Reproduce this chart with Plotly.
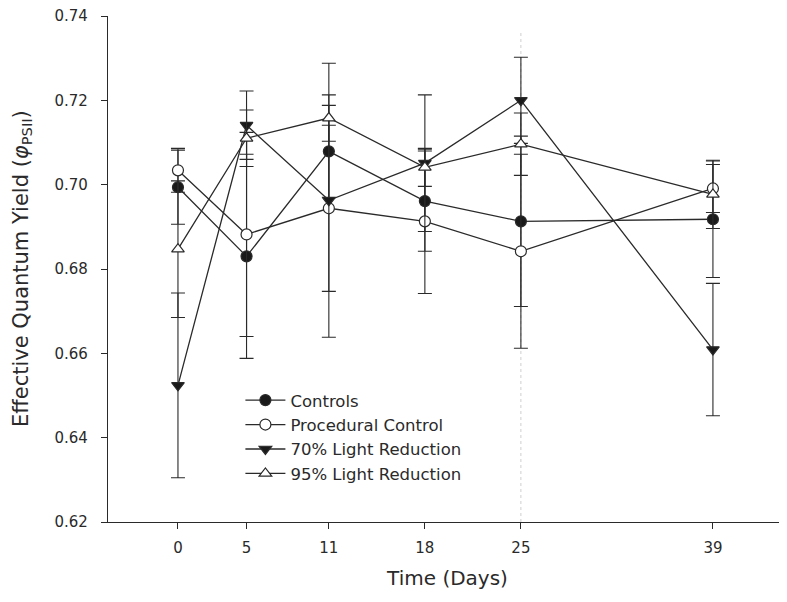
import plotly.graph_objects as go

days = [0, 5, 11, 18, 25, 39]
x_ticks = [0, 5, 11, 18, 25, 39]
y_ticks = [0.62, 0.64, 0.66, 0.68, 0.70, 0.72, 0.74]
y_tick_labels = ["0.62", "0.64", "0.66", "0.68", "0.70", "0.72", "0.74"]

series_names = ["Controls", "Procedural Control", "70% Light Reduction", "95% Light Reduction"]

controls = [0.6994, 0.6830, 0.7079, 0.6961, 0.6913, 0.6918]
controls_err = [0.0088, 0.0242, 0.0109, 0.0119, 0.0202, 0.0138]

procedural = [0.7034, 0.6882, 0.6944, 0.6913, 0.6842, 0.6991]
procedural_err = [0.0052, 0.0242, 0.0197, 0.0171, 0.0230, 0.0057]

light70 = [0.6524, 0.7141, 0.6963, 0.7051, 0.7200, 0.6609]
light70_err = [0.0219, 0.0081, 0.0325, 0.0162, 0.0102, 0.0157]

light95 = [0.6847, 0.7110, 0.7158, 0.7041, 0.7096, 0.6977]
light95_err = [0.0162, 0.0067, 0.0055, 0.0045, 0.0074, 0.0081]

values = [controls, procedural, light70, light95]
errors = [controls_err, procedural_err, light70_err, light95_err]
symbols = ["circle", "circle", "triangle-down", "triangle-up"]
fills = ["#1a1a1a", "white", "#1a1a1a", "white"]

fig = go.Figure()
for i, name in enumerate(series_names):
    fig.add_trace(go.Scatter(
        x=days, y=values[i], name=name, mode="lines+markers",
        legendgroup=name,
        line=dict(color="#2a2a2a", width=1.3),
        marker=dict(symbol=symbols[i], size=11, color=fills[i],
                    line=dict(color="#2a2a2a", width=1.2)),
        error_y=dict(type="data", array=errors[i], visible=True,
                     color="#2a2a2a", thickness=1.1, width=7),
    ))

# faint vertical scan line at day 25
fig.add_shape(type="line", x0=days[4], x1=days[4], y0=0, y1=0.97,
              xref="x", yref="paper",
              line=dict(color="#cfcfcf", width=1, dash="dot"), layer="below")

font = "DejaVu Sans, Arial, sans-serif"

# y-axis title as a rotated annotation so it can sit further left
fig.add_annotation(
    text="Effective Quantum Yield (<i>φ</i><sub>PSII</sub>)",
    xref="paper", yref="paper", x=0, y=0.5, xanchor="center", yanchor="middle",
    xshift=-86, textangle=-90, showarrow=False,
    font=dict(family=font, size=21, color="#2a2a2a"),
)

fig.update_layout(
    width=779, height=586,
    margin=dict(l=100, r=0, t=8, b=72),
    paper_bgcolor="white", plot_bgcolor="white",
    font=dict(family=font, size=14, color="#2a2a2a"),
    showlegend=True,
    legend=dict(x=0.195, y=0.275, xanchor="left", yanchor="top",
                bgcolor="rgba(0,0,0,0)", font=dict(size=16.5, color="#2a2a2a"),
                tracegroupgap=0, itemwidth=40),
    xaxis=dict(range=[-5.1, 44.4], tickmode="array", tickvals=x_ticks,
               ticktext=[str(t) for t in x_ticks],
               showgrid=False, zeroline=False, showline=True,
               linecolor="#2a2a2a", linewidth=1.3, ticks="outside",
               ticklen=6, tickcolor="#2a2a2a", tickfont=dict(size=15),
               ticklabelstandoff=6,
               title=dict(text="Time (Days)", font=dict(size=20), standoff=14)),
    yaxis=dict(range=[0.62, 0.74], tickmode="array", tickvals=y_ticks,
               ticktext=y_tick_labels,
               showgrid=False, zeroline=False, showline=True,
               linecolor="#2a2a2a", linewidth=1.3, ticks="outside",
               ticklen=6, tickcolor="#2a2a2a", tickfont=dict(size=15),
               ticklabelstandoff=10, ticklabeloverflow="allow"),
)

fig.write_html("out.html")
